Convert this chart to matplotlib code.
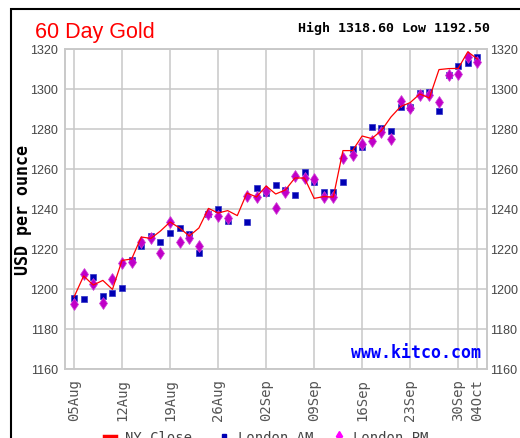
import numpy as np
import pandas as pd
import matplotlib
matplotlib.use('Agg')
import matplotlib.pyplot as plt
from matplotlib.patches import Rectangle

# trading days 05Aug .. 04Oct (weekdays)
days = pd.bdate_range('2010-08-05', '2010-10-04')

ny_close = [1196, 1206.5, 1202, 1204.3, 1199.8, 1214.3, 1215, 1226, 1225.3, 1229,
            1233.5, 1230.5, 1226.5, 1230.5, 1240.3, 1238, 1239.2, 1236.7, 1248, 1246,
            1251.5, 1247.5, 1249.5, 1255.5, 1255.5, 1245.3, 1246.2, 1246, 1269.2, 1269.2,
            1276.5, 1275.2, 1279.2, 1286, 1291.2, 1293.2, 1297.5, 1295.5, 1309.7, 1310.2,
            1310.3, 1318.6, 1315]
london_am = [1195.5, 1194.8, 1205.8, 1196.3, 1197.8, 1200.3, 1214.6, 1221.7, 1226.5, 1223.3,
             1228, 1230.4, 1227.5, 1217.8, 1237.7, 1240, 1234.2, np.nan, 1233.5, 1250.3,
             1248, 1252, 1249.5, 1247, 1258.3, 1253.3, 1248.3, 1248.3, 1253.5, 1270.2,
             1270.8, 1281.2, 1280.4, 1279, 1290.8, 1290.8, 1298.2, 1298.7, 1289.2, 1307.1,
             1311.5, 1313, 1316]
london_pm = [1192.5, 1207.3, 1202.5, 1193, 1205, 1213, 1213.3, 1223.3, 1225.4, 1218,
             1233.7, 1223.3, 1225.6, 1221.7, 1237.5, 1236.3, 1235.3, np.nan, 1246.5, 1246.2,
             1248.8, 1240.4, 1248.7, 1256.7, 1255.3, 1255, 1246.2, 1245.8, 1265.3, 1266.8,
             1272.7, 1274, 1278.7, 1274.8, 1294, 1290.3, 1297, 1297.2, 1293.7, 1307.2,
             1307.5, 1315.8, 1313.7]

tick_labels = ['05Aug', '12Aug', '19Aug', '26Aug', '02Sep', '09Sep', '16Sep', '23Sep', '30Sep', '04Oct']
y_ticks = [1160, 1180, 1200, 1220, 1240, 1260, 1280, 1300, 1320]

W, H = 520, 439
fig = plt.figure(figsize=(W / 100, H / 100), dpi=100)
fig.patch.set_facecolor('white')

# outer black frame (cropped at right and bottom)
fig.patches.append(Rectangle((11 / W, -0.1), 1.2, 1.1 - 10 / H, transform=fig.transFigure,
                             fill=False, edgecolor='black', linewidth=1.5))

ax = fig.add_axes([65 / W, (H - 370) / H, (487 - 65) / W, (370 - 50) / H])

x = np.arange(len(days))
tick_pos = [i for i, d in enumerate(days) if d.strftime('%d%b') in tick_labels]

grid_c = '#c8c8c8'
for p in tick_pos:
    ax.axvline(p, color=grid_c, linewidth=1.1, zorder=0)
for v in y_ticks:
    ax.axhline(v, color=grid_c, linewidth=1.1, zorder=0)

ax.plot(x, london_am, linestyle='none', marker='s', markersize=5, color='#0000b4',
        markeredgecolor='#3030c8', markeredgewidth=0.5, zorder=3)
ax.plot(x, london_pm, linestyle='none', marker='d', markersize=6, color='#c000c8',
        markeredgecolor='#d040d8', markeredgewidth=0.5, zorder=4)
ax.plot(x, ny_close, color='#ff0000', linewidth=0.9, zorder=5)

ax.set_xlim(-0.94, 43.0)
ax.set_ylim(1160, 1320)

ax2 = ax.twinx()
ax2.set_ylim(1160, 1320)

for a in (ax, ax2):
    for s in a.spines.values():
        s.set_color(grid_c)
        s.set_linewidth(1.1)
    a.set_yticks(y_ticks)
    a.set_yticklabels([str(v) for v in y_ticks], fontsize=9, family='Liberation Sans', color='#444444')
ax.tick_params(axis='y', length=0, pad=5)
ax2.tick_params(axis='y', length=0, pad=2.5)

ax.set_xticks(tick_pos)
ax.set_xticklabels(tick_labels, rotation=90, fontsize=10, family='DejaVu Sans Mono', color='#555555')
ax.tick_params(axis='x', length=0, pad=6.5)

ax.set_ylabel('USD per ounce', fontsize=12, family='DejaVu Sans Mono', fontweight='bold')
ax.yaxis.set_label_coords(-0.079, 0.5)

fig.text(35 / W, 1 - 38 / H, '60 Day Gold', color='#ff0000', fontsize=15.5,
         family='Liberation Sans', va='baseline', ha='left')
fig.text(490 / W, 1 - 32 / H, 'High 1318.60 Low 1192.50', color='black', fontsize=9.5,
         family='DejaVu Sans Mono', fontweight='bold', va='baseline', ha='right')
ax.text(0.985, 0.025, 'www.kitco.com', transform=ax.transAxes, color='#0000ff', fontsize=12,
        family='DejaVu Sans Mono', fontweight='bold', ha='right', va='bottom')

# legend, cropped at the bottom edge of the image
fig.add_artist(plt.Line2D([104 / W, 116 / W], [1 - 437 / H, 1 - 437 / H], color='#ff0000',
                          linewidth=2.5, transform=fig.transFigure))
fig.add_artist(plt.Line2D([224 / W], [1 - 437 / H], marker='s', markersize=3, color='#0000b4',
                          transform=fig.transFigure))
fig.add_artist(plt.Line2D([339 / W], [1 - 437 / H], marker='d', markersize=5, color='#ff00ff',
                          transform=fig.transFigure))
for xp, t in [(125, 'NY Close'), (238, 'London AM'), (353, 'London PM')]:
    fig.text(xp / W, 1 - 431 / H, t, fontsize=10, family='DejaVu Sans Mono', color='#444444',
             va='top', ha='left')

fig.savefig('out.png', dpi=100)
